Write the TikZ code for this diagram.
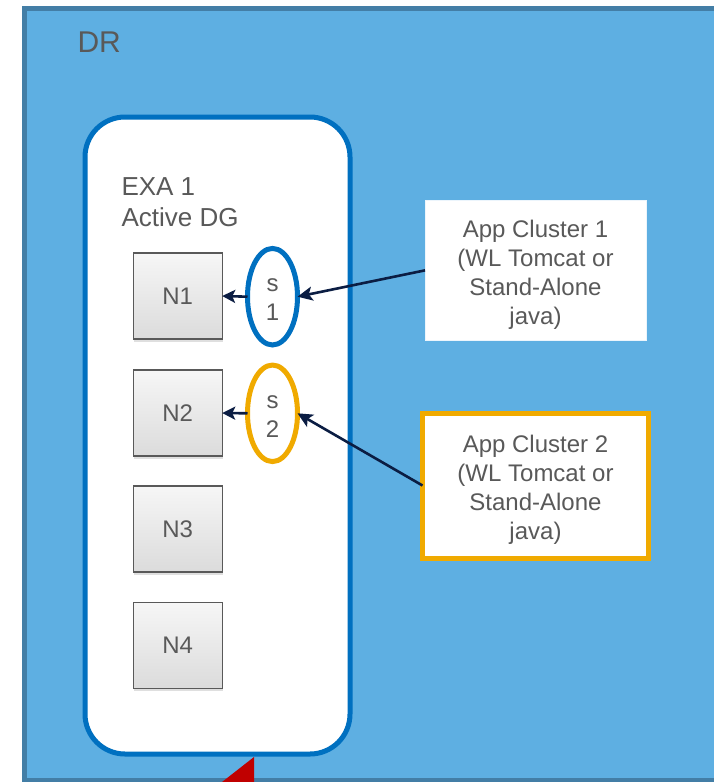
\documentclass[tikz,border=0pt]{standalone}
\usepackage{fontspec}
\setmainfont{Liberation Sans}
\usetikzlibrary{arrows.meta,shapes.geometric,shadows}
\definecolor{drfill}{HTML}{5EAFE2}
\definecolor{drline}{HTML}{437EA6}
\definecolor{exaline}{HTML}{0070C0}
\definecolor{svcorange}{HTML}{F0AA00}
\definecolor{txtgray}{HTML}{595959}
\definecolor{arrownavy}{HTML}{0B1D43}
\definecolor{redmark}{HTML}{C00000}

\begin{document}
\begin{tikzpicture}[x=1pt,y=-1pt,
  every node/.style={inner sep=0pt, outer sep=0pt, text=txtgray},
  lbl/.style={font=\fontsize{24}{29}\selectfont},
  region/.style={draw=drline, fill=drfill, line width=5pt},
  group/.style={draw=exaline, fill=white, line width=5pt, rounded corners=40pt},
  nodebox/.style={draw=txtgray, line width=1.2pt, minimum width=89pt, minimum height=86pt,
    top color=gray!7, bottom color=gray!28,
    drop shadow={shadow xshift=1pt, shadow yshift=-2.5pt, opacity=0.25}, lbl},
  svc/.style={ellipse, line width=5pt, fill=white, minimum width=50pt,
    minimum height=96.5pt},
  svctext/.style={lbl, align=center},
  appbox/.style={fill=white, align=center, lbl},
  link/.style={draw=arrownavy, line width=2.6pt,
    -{Stealth[length=15pt, width=14pt, inset=3.5pt]}},
  shortlink/.style={draw=arrownavy, line width=2.6pt,
    -{Stealth[length=13pt, width=13pt, inset=3pt]}},
]
\useasboundingbox (0,0) rectangle (714,782);
\clip (0,0) rectangle (714,782);

% DR site and the Exadata group
\node[region, minimum width=715.5pt, minimum height=772.5pt] (dr) at (382.25,394.25) {};
\node[group, minimum width=265pt, minimum height=637pt] (exa) at (217.5,435.5) {};

% labels
\node[anchor=north west, font=\fontsize{30}{36}\selectfont] (drlabel) at (77.5,32) {DR};
\node[anchor=north west, align=left, font=\fontsize{26}{31}\selectfont] (exalabel) at (121.5,178) {EXA 1\\Active DG};

% database nodes
\node[nodebox] (n1) at (177.7,296) {N1};
\node[nodebox] (n2) at (177.7,413) {N2};
\node[nodebox] (n3) at (177.7,529) {N3};
\node[nodebox] (n4) at (177.7,645.5) {N4};

% services
\node[svc, draw=exaline] (s1) at (272.5,296.7) {};
\node[svctext] (s1text) at (272.5,300) {s\\1};
\node[svc, draw=svcorange] (s2) at (272.5,413.3) {};
\node[svctext] (s2text) at (272.5,416.6) {s\\2};

% application clusters
\node[appbox, draw=white!88!drfill, line width=1pt, minimum width=221pt, minimum height=140.7pt] (app1) at (535.5,270.35) {};
\node[lbl, align=center] (app1text) at (535.5,274.5) {App Cluster 1\\(WL Tomcat or\\Stand-Alone\\java)};
\node[appbox, draw=svcorange, line width=5pt, minimum width=225.5pt, minimum height=145pt] (app2) at (535.25,485.5) {};
\node[lbl, align=center] (app2text) at (535.5,489.5) {App Cluster 2\\(WL Tomcat or\\Stand-Alone\\java)};

% connections
\draw[link] (app1.west) -- (s1.east);
\draw[link] (app2.west) -- (s2.east);
\draw[shortlink] (s1.west) -- (n1.east);
\draw[shortlink] (s2.west) -- (n2.east);

% red marker at the bottom edge
\fill[redmark] (211.8,790) -- (254,757) -- (254,790) -- cycle;
\end{tikzpicture}
\end{document}
